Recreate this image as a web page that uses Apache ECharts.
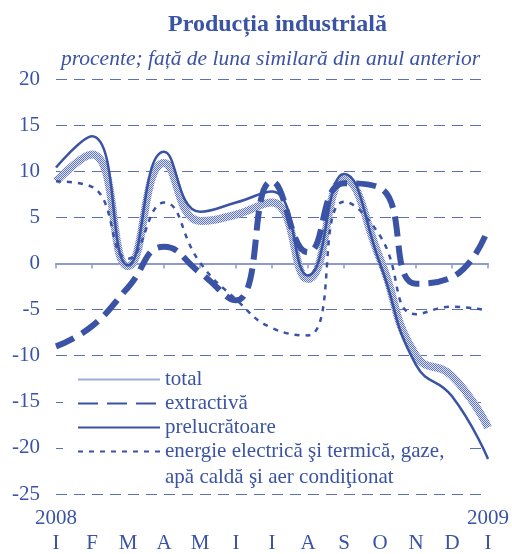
<!DOCTYPE html>
<html>
<head>
<meta charset="utf-8">
<script src="https://cdn.jsdelivr.net/npm/echarts@6/dist/echarts.min.js"></script>
<style>
  html, body { margin: 0; padding: 0; background: #fff; }
  #main { width: 512px; height: 554px; }
</style>
</head>
<body>
<div id="main"></div>
<script>
// luni: ianuarie 2008 ... ianuarie 2009
const luni = ['I', 'F', 'M', 'A', 'M', 'I', 'I', 'A', 'S', 'O', 'N', 'D', 'I'];
const total = [8.9, 11.8, -0.3, 10.9, 4.6, 5.3, 6.6, -1.7, 9.1, 0.5, -10.0, -12.2, -17.8];
const extractiva = [-9.0, -6.8, -2.6, 1.8, -1.0, -4.0, 8.9, 1.2, 8.7, 8.2, -2.2, -1.5, 3.7];
const prelucratoare = [10.4, 13.8, -0.2, 12.1, 5.6, 6.6, 7.8, -1.3, 9.7, 0.0, -11.0, -14.4, -21.2];
const energie = [8.9, 8.3, 0.5, 6.6, 0.1, -3.9, -7.0, -7.8, 6.7, 3.0, -5.5, -4.7, -5.1];

const albastru = '#3a53a4';
const font = "'Liberation Serif', 'Times New Roman', serif";

// textura pentru linia "total"
function hasura() {
  const c = document.createElement('canvas');
  c.width = 2; c.height = 2;
  const ctx = c.getContext('2d');
  ctx.fillStyle = '#dde1f1';
  ctx.fillRect(0, 0, 2, 2);
  ctx.fillStyle = '#6377bd';
  ctx.fillRect(0, 0, 1, 1);
  ctx.fillRect(1, 1, 1, 1);
  return c;
}

const myChart = echarts.init(document.getElementById('main'));
myChart.setOption({
  animation: false,
  backgroundColor: '#fff',
  title: [
    {
      text: 'Producția industrială',
      left: 163, top: 8,
      textStyle: { fontFamily: font, fontSize: 24, fontWeight: 'bold', color: albastru }
    },
    {
      text: 'procente; față de luna similară din anul anterior',
      left: 56, top: 43,
      textStyle: { fontFamily: font, fontSize: 21.5, fontStyle: 'italic', fontWeight: 'normal', color: albastru }
    }
  ],
  grid: { left: 56, right: 21, top: 79, bottom: 60 },
  legend: {
    orient: 'vertical',
    left: 63, top: 363,
    padding: [6, 25, 30, 14],
    itemWidth: 82, itemHeight: 12, itemGap: 3,
    backgroundColor: '#fff',
    z: 1,
    itemStyle: { opacity: 0 },
    textStyle: { fontFamily: font, fontSize: 21, lineHeight: 21, color: albastru },
    data: ['total', 'extractivă', 'prelucrătoare', 'energie electrică şi termică, gaze,']
  },
  graphic: [{
    type: 'text',
    left: 165, top: 467,
    z: 5,
    style: { text: 'apă caldă şi aer condiţionat', fontFamily: font, fontSize: 21, fill: albastru }
  }],
  xAxis: [
    {
      type: 'category', data: luni, boundaryGap: false,
      axisLine: { onZero: true, lineStyle: { color: '#8d9acd', width: 2 } },
      axisTick: { show: true, length: 5, lineStyle: { color: '#8d9acd', width: 1.5 } },
      axisLabel: { show: false }
    },
    {
      type: 'category', data: luni, boundaryGap: false, position: 'bottom',
      axisLine: { show: false, onZero: false }, axisTick: { show: false },
      axisLabel: {
        margin: 12, interval: 0,
        formatter: function (v, i) {
          const an = i === 0 ? '2008' : (i === luni.length - 1 ? '2009' : ' ');
          return '{y|' + an + '}\n{m|' + v + '}';
        },
        rich: {
          y: { fontFamily: font, fontSize: 21, lineHeight: 25, color: albastru },
          m: { fontFamily: font, fontSize: 21, lineHeight: 25, color: albastru }
        }
      }
    }
  ],
  yAxis: {
    type: 'value', min: -25, max: 20, interval: 5,
    axisLine: { show: false }, axisTick: { show: false },
    axisLabel: { margin: 16, fontFamily: font, fontSize: 21, color: albastru },
    splitLine: { lineStyle: { color: '#5b70b6', width: 1, type: [11, 7] } }
  },
  series: [
    {
      name: 'total', type: 'line', data: total, smooth: 0.5, symbol: 'none', z: 3,
      lineStyle: { width: 8, color: { image: hasura(), repeat: 'repeat' } },
      itemStyle: { color: '#9aa6d4' }
    },
    {
      name: 'extractivă', type: 'line', data: extractiva, smooth: 0.5, symbol: 'none', z: 3,
      lineStyle: { width: 6, color: albastru, type: [20, 9] },
      itemStyle: { color: albastru }
    },
    {
      name: 'prelucrătoare', type: 'line', data: prelucratoare, smooth: 0.5, symbol: 'none', z: 3,
      lineStyle: { width: 2.5, color: albastru },
      itemStyle: { color: albastru }
    },
    {
      name: 'energie electrică şi termică, gaze,', type: 'line', data: energie, smooth: 0.5, symbol: 'none', z: 3,
      lineStyle: { width: 2.5, color: albastru, type: [5, 6] },
      itemStyle: { color: albastru }
    }
  ]
});
</script>
</body>
</html>
